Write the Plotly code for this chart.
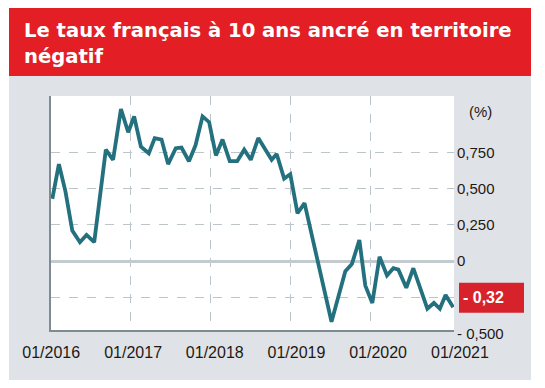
import plotly.graph_objects as go

# ---- data ----
dates = [
    "2016-01-09", "2016-02-08", "2016-03-09", "2016-04-09", "2016-05-14", "2016-06-13",
    "2016-07-18", "2016-09-09", "2016-10-12", "2016-11-17", "2016-12-20", "2017-01-16",
    "2017-02-16", "2017-03-24", "2017-04-20", "2017-05-21", "2017-06-20", "2017-07-25",
    "2017-08-20", "2017-09-23", "2017-10-23", "2017-11-24", "2017-12-24", "2018-01-24",
    "2018-02-23", "2018-03-28", "2018-05-01", "2018-06-02", "2018-07-02", "2018-08-05",
    "2018-10-05", "2018-10-28", "2018-12-01", "2018-12-29", "2019-01-31", "2019-03-04",
    "2019-07-05", "2019-09-06", "2019-10-06", "2019-11-09", "2019-12-06", "2020-01-07",
    "2020-02-09", "2020-03-14", "2020-04-12", "2020-05-05", "2020-06-10", "2020-07-12",
    "2020-09-14", "2020-10-14", "2020-11-10", "2020-12-06", "2021-01-10",
]
yields = [
    0.43, 0.67, 0.48, 0.21, 0.13, 0.18,
    0.13, 0.77, 0.70, 1.05, 0.89, 1.00,
    0.79, 0.745, 0.85, 0.84, 0.67, 0.78,
    0.785, 0.69, 0.80, 1.00, 0.96, 0.73,
    0.84, 0.69, 0.69, 0.77, 0.70, 0.85,
    0.70, 0.74, 0.57, 0.60, 0.33, 0.40,
    -0.42, -0.07, -0.02, 0.145, -0.17, -0.29,
    0.03, -0.10, -0.05, -0.06, -0.185, -0.05,
    -0.33, -0.29, -0.33, -0.235, -0.32,
]
x_grid = ["2017-01-01", "2018-01-01", "2019-01-01", "2020-01-01"]
x_ticks = ["2016-01-01", "2017-01-01", "2018-01-01", "2019-01-01", "2020-01-01", "2021-01-01"]
x_labels = ["01/2016", "01/2017", "01/2018", "01/2019", "01/2020", "01/2021"]
y_grid = [-0.25, 0.25, 0.5, 0.75]
y_ticks = [-0.5, 0, 0.25, 0.5, 0.75]
y_labels = ["- 0,500", "0", "0,250", "0,500", "0,750"]
unit_label = "(%)"
last_label = "- 0,32"
title_lines = ["Le taux français à 10 ans ancré en territoire", "négatif"]

# ---- layout geometry (screen pixels; page body adds an 8px offset) ----
OFF = 8
W, H = 545 - OFF, 388 - OFF
L, R, T, B = 51, 462, 96, 336          # plot region on screen
PW, PH = R - L, B - T


def px(x):
    return (x - L) / PW


def py(y):
    return (B - y) / PH


TEAL = "#23707e"
RED = "#e31e24"
GRAY = "#dfe3e7"
GRID = "#bcc6ca"
AXIS = "#7f8b92"
TXT = "#1f1814"

fig = go.Figure()
fig.add_trace(go.Scatter(
    x=dates, y=yields, mode="lines",
    line=dict(color=TEAL, width=3.8), hoverinfo="skip", showlegend=False,
    xaxis="x", yaxis="y",
))
fig.add_trace(go.Scatter(
    x=[], y=[], mode="lines", hoverinfo="skip", showlegend=False,
    xaxis="x2", yaxis="y2",
))

x_dom_end = px(454)
y_dom_start = py(330)

fig.update_layout(
    width=W, height=H,
    margin=dict(l=L - OFF, r=W - (R - OFF), t=T - OFF, b=H - (B - OFF), pad=0),
    paper_bgcolor="white",
    plot_bgcolor="rgba(0,0,0,0)",
    showlegend=False,
    xaxis=dict(
        type="date",
        domain=[0, x_dom_end], anchor="y",
        range=["2016-01-03", "2021-01-13 12:00"],
        tickvals=x_grid, showticklabels=False, ticks="",
        showgrid=True, gridcolor=GRID, gridwidth=1, griddash="dash",
        showline=True, linecolor=AXIS, linewidth=2, zeroline=False,
        fixedrange=True,
    ),
    yaxis=dict(
        domain=[y_dom_start, 1], anchor="x",
        range=[-0.477, 1.141],
        tickvals=y_grid, showticklabels=False, ticks="",
        showgrid=True, gridcolor=GRID, gridwidth=1, griddash="dash",
        zeroline=True, zerolinecolor="#c3cbcf", zerolinewidth=3,
        showline=True, linecolor=AXIS, linewidth=2,
        fixedrange=True,
    ),
    xaxis2=dict(
        type="date",
        domain=[0, 1], anchor="y2", side="bottom",
        range=["2015-12-31", "2021-01-10"],
        tickvals=x_ticks, ticktext=x_labels, ticks="",
        ticklabelstandoff=5,
        tickfont=dict(family="Liberation Sans", size=16, color=TXT),
        showgrid=False, showline=False, zeroline=False, fixedrange=True,
    ),
    yaxis2=dict(
        type="linear",
        domain=[0, 1], anchor="free", position=x_dom_end, side="right",
        range=[-0.5187, 1.141],
        tickvals=y_ticks, ticktext=y_labels, ticks="",
        ticklabelstandoff=2,
        tickfont=dict(family="Liberation Sans", size=15, color=TXT),
        showgrid=False, showline=False, zeroline=False, fixedrange=True,
    ),
    shapes=[
        dict(type="rect", xref="paper", yref="paper", layer="below",
             x0=px(9), x1=px(531), y0=py(380), y1=py(76),
             fillcolor=GRAY, line=dict(width=0)),
        dict(type="rect", xref="paper", yref="paper", layer="below",
             x0=px(9), x1=px(531), y0=py(76), y1=py(7),
             fillcolor=RED, line=dict(width=0)),
        dict(type="rect", xref="x domain", yref="y domain", layer="below",
             x0=0, x1=1, y0=0, y1=1,
             fillcolor="white", line=dict(width=0)),
        dict(type="rect", xref="paper", yref="paper", layer="above",
             x0=px(459), x1=px(524), y0=py(312.7), y1=py(282.7),
             fillcolor="#d7212b", line=dict(width=0)),
    ],
    annotations=[
        dict(text=title_lines[0], xref="paper", yref="paper", x=px(22), y=py(30),
             xanchor="left", yanchor="middle", showarrow=False,
             font=dict(family="DejaVu Sans", size=19.6, color="white", weight="bold")),
        dict(text=title_lines[1], xref="paper", yref="paper", x=px(22), y=py(56.5),
             xanchor="left", yanchor="middle", showarrow=False,
             font=dict(family="DejaVu Sans", size=19.6, color="white", weight="bold")),
        dict(text=unit_label, xref="paper", yref="paper", x=px(467), y=py(111),
             xanchor="left", yanchor="middle", showarrow=False,
             font=dict(family="Liberation Sans", size=15, color=TXT)),
        dict(text=last_label, xref="paper", yref="paper", x=px(483.5), y=py(297.5),
             xanchor="center", yanchor="middle", showarrow=False,
             font=dict(family="Liberation Sans", size=16, color="white", weight="bold")),
    ],
)

fig.write_html("out.html")
